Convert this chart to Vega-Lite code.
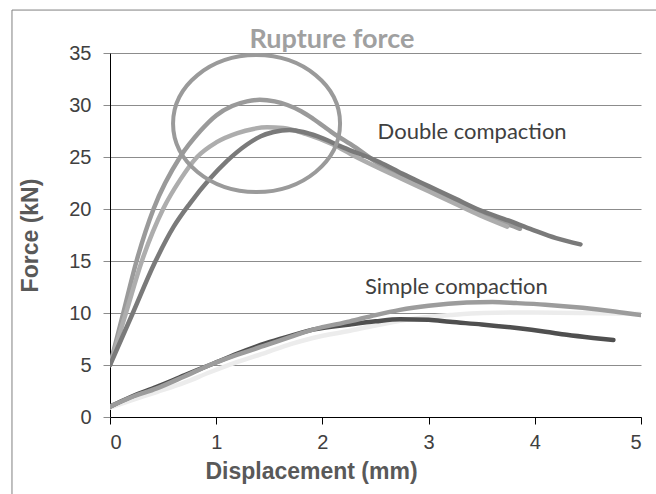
{
  "$schema": "https://vega.github.io/schema/vega-lite/v6.json",
  "width": 531,
  "height": 364,
  "autosize": {"type": "none"},
  "padding": {"left": 110, "top": 53, "right": 15, "bottom": 77},
  "background": "white",
  "config": {
    "view": {"stroke": null},
    "axis": {
      "labelFont": "Liberation Sans",
      "labelFontSize": 20,
      "labelColor": "#404040",
      "titleFont": "Liberation Sans",
      "titleFontSize": 23,
      "titleFontWeight": "bold",
      "titleColor": "#595959",
      "domainColor": "#000000",
      "domainWidth": 1,
      "tickSize": 7
    }
  },
  "datasets": {
    "curves": [
      {"series": "D1", "x": 0, "y": 5}, {"series": "D1", "x": 0.06, "y": 7.4}, {"series": "D1", "x": 0.125, "y": 10}, {"series": "D1", "x": 0.25, "y": 15}, {"series": "D1", "x": 0.41, "y": 20}, {"series": "D1", "x": 0.66, "y": 25}, {"series": "D1", "x": 0.85, "y": 27.5}, {"series": "D1", "x": 1.0, "y": 29.0}, {"series": "D1", "x": 1.15, "y": 29.9}, {"series": "D1", "x": 1.29, "y": 30.35}, {"series": "D1", "x": 1.41, "y": 30.5}, {"series": "D1", "x": 1.55, "y": 30.35}, {"series": "D1", "x": 1.67, "y": 30.0}, {"series": "D1", "x": 1.8, "y": 29.4}, {"series": "D1", "x": 1.91, "y": 28.7}, {"series": "D1", "x": 2.1, "y": 27.3}, {"series": "D1", "x": 2.3, "y": 26.0}, {"series": "D1", "x": 2.54, "y": 24.3}, {"series": "D1", "x": 2.75, "y": 23.2}, {"series": "D1", "x": 3.0, "y": 21.9}, {"series": "D1", "x": 3.25, "y": 20.7}, {"series": "D1", "x": 3.48, "y": 19.6}, {"series": "D1", "x": 3.7, "y": 18.7}, {"series": "D1", "x": 3.86, "y": 18.1},
      {"series": "D2", "x": 0, "y": 5}, {"series": "D2", "x": 0.15, "y": 10}, {"series": "D2", "x": 0.30, "y": 15}, {"series": "D2", "x": 0.50, "y": 20}, {"series": "D2", "x": 0.66, "y": 22.8}, {"series": "D2", "x": 0.82, "y": 25}, {"series": "D2", "x": 1.0, "y": 26.4}, {"series": "D2", "x": 1.2, "y": 27.3}, {"series": "D2", "x": 1.35, "y": 27.7}, {"series": "D2", "x": 1.48, "y": 27.85}, {"series": "D2", "x": 1.63, "y": 27.8}, {"series": "D2", "x": 1.85, "y": 27.2}, {"series": "D2", "x": 2.1, "y": 26.2}, {"series": "D2", "x": 2.3, "y": 25.1}, {"series": "D2", "x": 2.54, "y": 23.9}, {"series": "D2", "x": 2.75, "y": 22.9}, {"series": "D2", "x": 3.0, "y": 21.7}, {"series": "D2", "x": 3.25, "y": 20.5}, {"series": "D2", "x": 3.48, "y": 19.4}, {"series": "D2", "x": 3.74, "y": 18.3},
      {"series": "D3", "x": 0, "y": 5}, {"series": "D3", "x": 0.215, "y": 10}, {"series": "D3", "x": 0.42, "y": 14.8}, {"series": "D3", "x": 0.6, "y": 18.3}, {"series": "D3", "x": 0.75, "y": 20.5}, {"series": "D3", "x": 0.94, "y": 22.9}, {"series": "D3", "x": 1.1, "y": 24.6}, {"series": "D3", "x": 1.29, "y": 26.2}, {"series": "D3", "x": 1.42, "y": 27.0}, {"series": "D3", "x": 1.54, "y": 27.4}, {"series": "D3", "x": 1.69, "y": 27.6}, {"series": "D3", "x": 1.82, "y": 27.4}, {"series": "D3", "x": 1.95, "y": 27.0}, {"series": "D3", "x": 2.2, "y": 25.9}, {"series": "D3", "x": 2.54, "y": 24.5}, {"series": "D3", "x": 2.75, "y": 23.4}, {"series": "D3", "x": 3.0, "y": 22.2}, {"series": "D3", "x": 3.25, "y": 21.0}, {"series": "D3", "x": 3.48, "y": 19.9}, {"series": "D3", "x": 3.75, "y": 18.9}, {"series": "D3", "x": 3.98, "y": 18.0}, {"series": "D3", "x": 4.2, "y": 17.2}, {"series": "D3", "x": 4.43, "y": 16.6},
      {"series": "S3", "x": 0, "y": 0.9}, {"series": "S3", "x": 0.2, "y": 1.6}, {"series": "S3", "x": 0.44, "y": 2.4}, {"series": "S3", "x": 0.7, "y": 3.3}, {"series": "S3", "x": 0.94, "y": 4.3}, {"series": "S3", "x": 1.2, "y": 5.3}, {"series": "S3", "x": 1.47, "y": 6.2}, {"series": "S3", "x": 1.7, "y": 7.0}, {"series": "S3", "x": 1.91, "y": 7.6}, {"series": "S3", "x": 2.26, "y": 8.3}, {"series": "S3", "x": 2.5, "y": 8.8}, {"series": "S3", "x": 2.89, "y": 9.5}, {"series": "S3", "x": 3.2, "y": 9.8}, {"series": "S3", "x": 3.51, "y": 10.0}, {"series": "S3", "x": 4.0, "y": 10.05}, {"series": "S3", "x": 4.5, "y": 10.0}, {"series": "S3", "x": 5.0, "y": 9.9},
      {"series": "S1", "x": 0, "y": 1.0}, {"series": "S1", "x": 0.2, "y": 1.95}, {"series": "S1", "x": 0.44, "y": 2.9}, {"series": "S1", "x": 0.7, "y": 4.0}, {"series": "S1", "x": 0.94, "y": 5.0}, {"series": "S1", "x": 1.2, "y": 6.1}, {"series": "S1", "x": 1.47, "y": 7.1}, {"series": "S1", "x": 1.7, "y": 7.8}, {"series": "S1", "x": 1.91, "y": 8.4}, {"series": "S1", "x": 2.26, "y": 8.9}, {"series": "S1", "x": 2.5, "y": 9.2}, {"series": "S1", "x": 2.73, "y": 9.4}, {"series": "S1", "x": 3.0, "y": 9.35}, {"series": "S1", "x": 3.2, "y": 9.15}, {"series": "S1", "x": 3.5, "y": 8.9}, {"series": "S1", "x": 3.83, "y": 8.55}, {"series": "S1", "x": 4.1, "y": 8.2}, {"series": "S1", "x": 4.3, "y": 7.9}, {"series": "S1", "x": 4.55, "y": 7.6}, {"series": "S1", "x": 4.74, "y": 7.4},
      {"series": "S2", "x": 0, "y": 1.0}, {"series": "S2", "x": 0.2, "y": 1.9}, {"series": "S2", "x": 0.44, "y": 2.75}, {"series": "S2", "x": 0.7, "y": 3.9}, {"series": "S2", "x": 0.94, "y": 5.0}, {"series": "S2", "x": 1.2, "y": 6.0}, {"series": "S2", "x": 1.47, "y": 6.9}, {"series": "S2", "x": 1.7, "y": 7.7}, {"series": "S2", "x": 1.91, "y": 8.4}, {"series": "S2", "x": 2.26, "y": 9.2}, {"series": "S2", "x": 2.5, "y": 9.8}, {"series": "S2", "x": 2.73, "y": 10.3}, {"series": "S2", "x": 3.0, "y": 10.7}, {"series": "S2", "x": 3.36, "y": 11.0}, {"series": "S2", "x": 3.6, "y": 11.05}, {"series": "S2", "x": 3.83, "y": 10.95}, {"series": "S2", "x": 4.1, "y": 10.8}, {"series": "S2", "x": 4.45, "y": 10.5}, {"series": "S2", "x": 4.75, "y": 10.15}, {"series": "S2", "x": 5.0, "y": 9.8}
    ],
    "labels": [
      {"label": "Double compaction", "x": 2.52, "y": 27.4},
      {"label": "Simple compaction", "x": 2.40, "y": 12.5}
    ]
  },
  "layer": [
    {
      "data": {"name": "curves"},
      "mark": {"type": "line", "strokeWidth": 4.5, "strokeCap": "round", "strokeJoin": "round", "interpolate": "monotone", "clip": true},
      "encoding": {
        "x": {"field": "x", "type": "quantitative", "scale": {"domain": [0, 5], "nice": false, "zero": false},
          "axis": {"values": [0, 1, 2, 3, 4, 5], "format": "d", "grid": false, "title": "Displacement (mm)", "labelFont": "Liberation Sans", "titleFont": "Liberation Sans", "tickColor": "#000000", "labelPadding": 8, "titlePadding": 8, "titleX": 201, "titleAlign": "center"}},
        "y": {"field": "y", "type": "quantitative", "scale": {"domain": [0, 35], "nice": false},
          "axis": {"values": [0, 5, 10, 15, 20, 25, 30, 35], "format": "d", "grid": true, "gridColor": "#8c8c8c", "tickColor": "#8c8c8c", "labelFont": "Liberation Sans", "titleFont": "Liberation Sans", "title": "Force (kN)", "labelPadding": 12, "titlePadding": 26}},
        "color": {"field": "series", "type": "nominal", "legend": null,
          "scale": {"domain": ["D1", "D2", "D3", "S1", "S2", "S3"], "range": ["#9a9a9a", "#adadad", "#7a7a7a", "#4f4f4f", "#9c9c9c", "#ececec"]}},
        "order": {"field": "x", "type": "quantitative"}
      }
    },
    {
      "data": {"values": [{}]},
      "mark": {"type": "point", "filled": false, "strokeWidth": 4, "color": "#9a9a9a", "opacity": 1,
        "shape": "M -1 0 C -1 -0.4529 -0.5523 -0.82 0 -0.82 C 0.5523 -0.82 1 -0.4529 1 0 C 1 0.4529 0.5523 0.82 0 0.82 C -0.5523 0.82 -1 0.4529 -1 0 Z",
        "size": 27889},
      "encoding": {"x": {"datum": 1.38, "type": "quantitative"}, "y": {"datum": 28.22, "type": "quantitative"}}
    },
    {
      "data": {"name": "labels"},
      "mark": {"type": "text", "font": "Lato", "fontSize": 22, "color": "#404040", "align": "left", "baseline": "middle"},
      "encoding": {"x": {"field": "x", "type": "quantitative"}, "y": {"field": "y", "type": "quantitative"}, "text": {"field": "label"}}
    },
    {
      "data": {"values": [{"label": "Rupture force", "x": 2.09, "y": 35.5}]},
      "mark": {"type": "text", "font": "Lato", "fontSize": 27, "fontWeight": "bold", "color": "#a0a0a0", "align": "center", "baseline": "alphabetic", "clip": false},
      "encoding": {"x": {"field": "x", "type": "quantitative"}, "y": {"field": "y", "type": "quantitative"}, "text": {"field": "label"}}
    },
    {
      "data": {"values": [{}]},
      "mark": {"type": "rect", "fill": null, "stroke": "#808080", "strokeWidth": 1, "clip": false},
      "encoding": {"x": {"datum": -0.923, "type": "quantitative"}, "x2": {"datum": 7}, "y": {"datum": 39.13, "type": "quantitative"}, "y2": {"datum": -10}}
    }
  ]
}
